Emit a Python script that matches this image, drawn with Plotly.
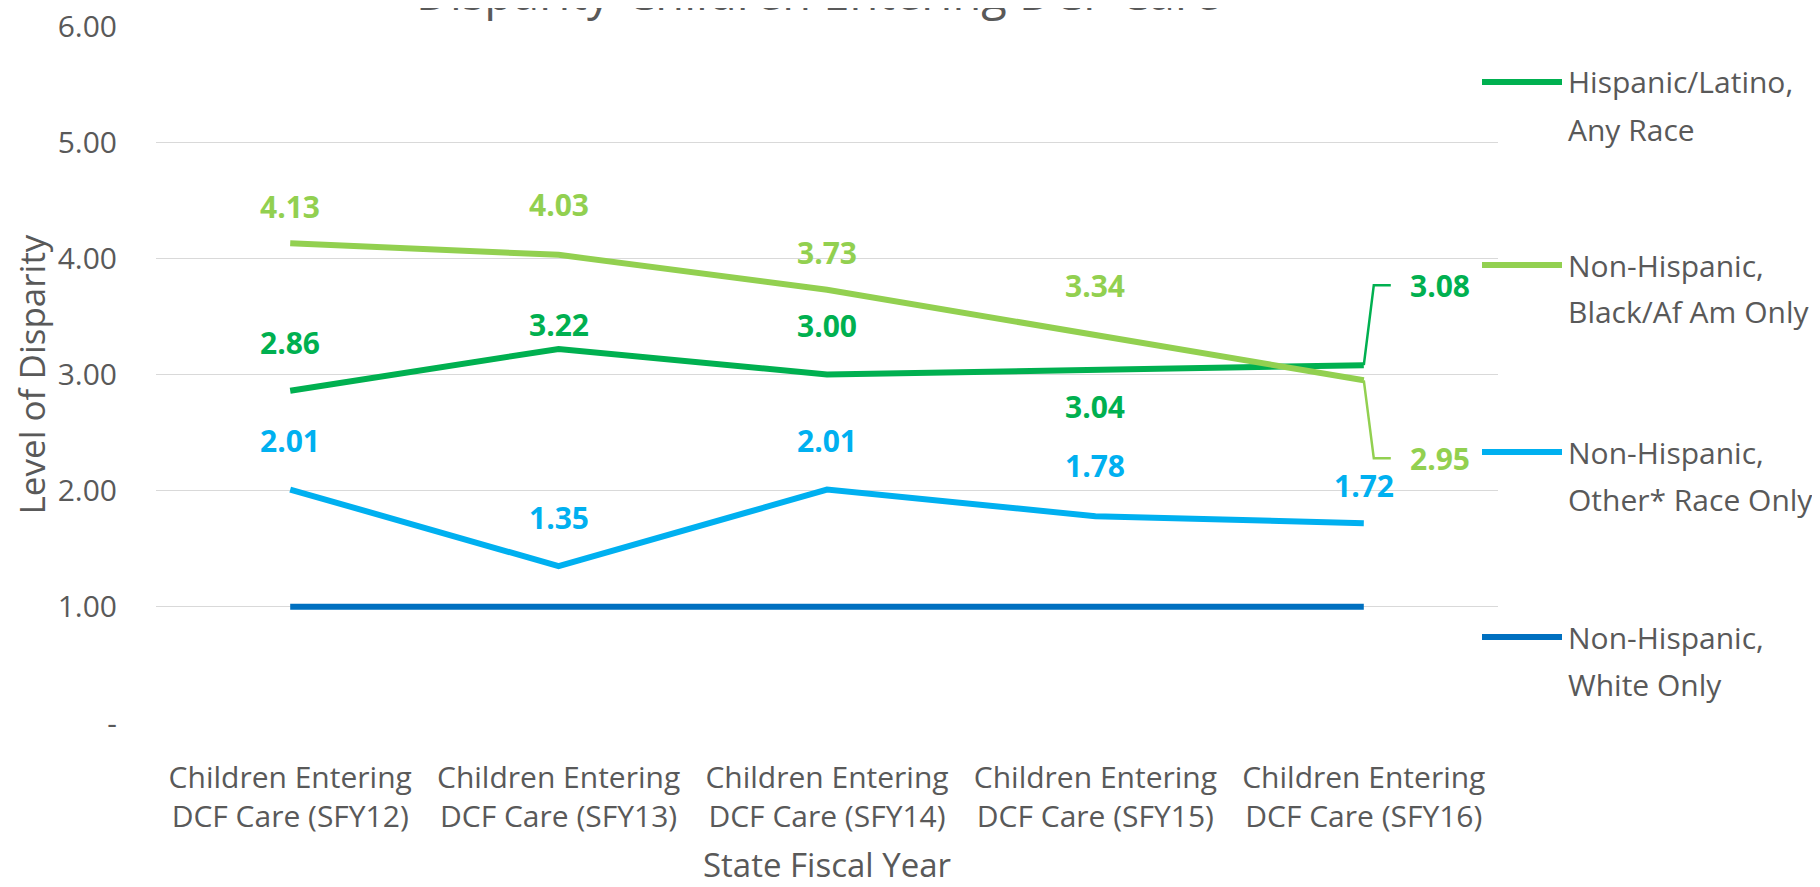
import plotly.graph_objects as go

# ---------------- data ----------------
categories = ["Children Entering<br>DCF Care (SFY12)",
              "Children Entering<br>DCF Care (SFY13)",
              "Children Entering<br>DCF Care (SFY14)",
              "Children Entering<br>DCF Care (SFY15)",
              "Children Entering<br>DCF Care (SFY16)"]
hispanic = [2.86, 3.22, 3.00, 3.04, 3.08]
black = [4.13, 4.03, 3.73, 3.34, 2.95]
other = [2.01, 1.35, 2.01, 1.78, 1.72]
white = [1.00, 1.00, 1.00, 1.00, 1.00]

series_names = ["Hispanic/Latino,<br>Any Race",
                "Non-Hispanic,<br>Black/Af Am Only",
                "Non-Hispanic,<br>Other* Race Only",
                "Non-Hispanic,<br>White Only"]
y_tickvals = [0, 1, 2, 3, 4, 5, 6]
y_ticktext = ["-", "1.00", "2.00", "3.00", "4.00", "5.00", "6.00"]

# ---------------- styles ----------------
colors = ["#00B050", "#92D050", "#00B0F0", "#0070C0"]
GRAY = "#595959"
FONT = "Open Sans"
OFF = 8  # page body margin
W, H = 1820 - OFF, 887 - OFF
ML, MR, MT, MB = 156 - OFF, 322, 26 - OFF, 164
PW, PH = W - ML - MR, H - MT - MB

# label pixel offsets (yshift, up positive) per series/point; None = special leader label
label_shift = {
    0: [48, 24, 49, -37, None],
    1: [37, 50, 37, 50, None],
    2: [49, 49, 49, 51, 38],
}


def px_x(p):
    # page pixel -> paper x
    return (p - OFF - ML) / PW


def px_y(p):
    # page pixel -> paper y
    return (H - MB - (p - OFF)) / PH


all_series = [hispanic, black, other, white]
x_idx = list(range(len(categories)))

fig = go.Figure()
for name, vals, col in zip(series_names, all_series, colors):
    fig.add_trace(go.Scatter(
        x=x_idx, y=vals, mode="lines", name=name.replace("<br>", " "),
        line=dict(color=col, width=6), showlegend=False, hoverinfo="x+y"))

annotations = []
shapes = []

# data labels
for si, shifts in label_shift.items():
    vals = all_series[si]
    for i, v in enumerate(vals):
        if shifts[i] is None:
            continue
        annotations.append(dict(
            x=x_idx[i], y=v, xref="x", yref="y", text=f"{v:.2f}", showarrow=False,
            yshift=shifts[i], xanchor="center", yanchor="middle",
            font=dict(family=FONT, size=30, color=colors[si], weight="bold")))

# leader-line labels at last point
lead = [(0, -80), (1, 78)]  # (series, pixel offset down-positive of label level)
for si, dy in lead:
    v = all_series[si][-1]
    annotations.append(dict(
        x=x_idx[-1], y=v, xref="x", yref="y", text=f"{v:.2f}", showarrow=False,
        xshift=76, yshift=-dy, xanchor="center", yanchor="middle",
        font=dict(family=FONT, size=30, color=colors[si], weight="bold")))
    shapes.append(dict(
        type="path", xref="x", yref="y", xsizemode="pixel", ysizemode="pixel",
        xanchor=x_idx[-1], yanchor=v,
        path=f"M 0,0 L 10,{-dy} L 27,{-dy}",
        line=dict(color=colors[si], width=2.5)))

# manual legend
leg_y = [82, 265, 452, 637]
for name, col, ly in zip(series_names, colors, leg_y):
    shapes.append(dict(type="line", xref="paper", yref="paper",
                       x0=px_x(1482), x1=px_x(1562), y0=px_y(ly), y1=px_y(ly),
                       line=dict(color=col, width=6)))
    for li, part in enumerate(name.split("<br>")):
        annotations.append(dict(
            x=px_x(1566), y=px_y(ly + li * 47), xref="paper", yref="paper",
            text=part, showarrow=False, xanchor="left", yanchor="middle",
            font=dict(family=FONT, size=30, color=GRAY)))

# title (cut off at top in the reference)
annotations.append(dict(
    x=px_x(818), y=px_y(-8), xref="paper", yref="paper",
    text="Disparity-Children Entering DCF Care", showarrow=False,
    xanchor="center", yanchor="middle",
    font=dict(family=FONT, size=47, color=GRAY)))

fig.update_layout(
    width=W, height=H, autosize=False,
    margin=dict(l=ML, r=MR, t=MT, b=MB, pad=0, autoexpand=False),
    paper_bgcolor="white", plot_bgcolor="white",
    font=dict(family=FONT, color=GRAY),
    annotations=annotations, shapes=shapes,
    xaxis=dict(range=[-0.5, 4.5], tickvals=x_idx, ticktext=categories,
               showgrid=False, zeroline=False, showline=False, automargin=False,
               tickfont=dict(size=30, color=GRAY), ticks="", ticklabelstandoff=34,
               title=dict(text="State Fiscal Year", font=dict(size=33, color=GRAY),
                          standoff=25)),
    yaxis=dict(range=[0, 6.0001], tickvals=y_tickvals, ticktext=y_ticktext,
               showgrid=True, gridcolor="#D9D9D9", gridwidth=1.2,
               zeroline=False, showline=False, ticks="", automargin=False,
               ticklabeloverflow="allow",
               tickfont=dict(size=30, color=GRAY), ticklabelstandoff=38,
               title=dict(text="Level of Disparity", font=dict(size=35, color=GRAY),
                          standoff=4)),
)

fig.write_html("out.html")
